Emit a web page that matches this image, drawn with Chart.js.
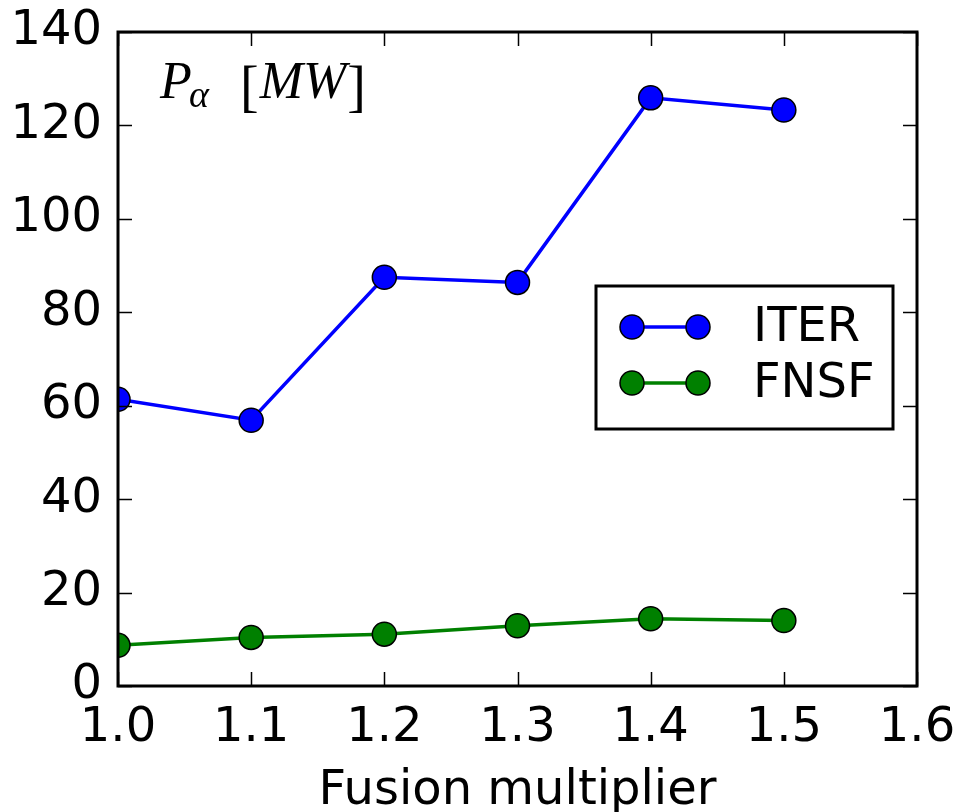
<!DOCTYPE html>
<html>
<head>
<meta charset="utf-8">
<script src="https://cdn.jsdelivr.net/npm/chart.js@4/dist/chart.umd.min.js"></script>
<style>
  html, body { margin: 0; padding: 0; background: #fff; }
  #wrap { width: 954px; height: 812px; }
</style>
</head>
<body>
<div id="wrap"><canvas id="chart1" width="954" height="812"></canvas></div>
<script>
var multipliers = [1.0, 1.1, 1.2, 1.3, 1.4, 1.5];
var iterPower = [61.4, 56.9, 87.5, 86.4, 125.9, 123.3];
var fnsfPower = [8.7, 10.4, 11.1, 12.9, 14.4, 14.0];
var seriesNames = ['ITER', 'FNSF'];

function toPoints(ys) {
    return multipliers.map(function (x, i) { return { x: x, y: ys[i] }; });
}

var tickFont = { family: 'DejaVu Sans', size: 48 };

// frame, inward ticks, legend box and the P_alpha label
var decorations = {
    id: 'decorations',
    afterDraw: function (chart) {
        var c = chart.ctx, a = chart.chartArea;
        var xs = chart.scales.x, ys = chart.scales.y;
        c.save();
        c.strokeStyle = '#000';

        c.lineWidth = 1.5;
        var len = 14;
        c.beginPath();
        xs.ticks.forEach(function (t) {
            var px = Math.round(xs.getPixelForValue(t.value)) + 0.5;
            c.moveTo(px, a.bottom); c.lineTo(px, a.bottom - len);
            c.moveTo(px, a.top); c.lineTo(px, a.top + len);
        });
        ys.ticks.forEach(function (t) {
            var py = Math.round(ys.getPixelForValue(t.value)) + 0.5;
            c.moveTo(a.left, py); c.lineTo(a.left + len, py);
            c.moveTo(a.right, py); c.lineTo(a.right - len, py);
        });
        c.stroke();

        c.lineWidth = 3;
        c.strokeRect(a.left, a.top, a.right - a.left, a.bottom - a.top);

        // legend
        var bx = 596, by = 286, bw = 297, bh = 143;
        c.fillStyle = '#fff';
        c.fillRect(bx, by, bw, bh);
        c.lineWidth = 3;
        c.strokeRect(bx, by, bw, bh);
        chart.data.datasets.forEach(function (ds, i) {
            var ry = 327 + i * 56;
            c.strokeStyle = ds.borderColor;
            c.lineWidth = 3.5;
            c.beginPath(); c.moveTo(632, ry); c.lineTo(698, ry); c.stroke();
            [632, 698].forEach(function (mx) {
                c.beginPath();
                c.arc(mx, ry, 12, 0, Math.PI * 2);
                c.fillStyle = ds.pointBackgroundColor;
                c.fill();
                c.lineWidth = 1.5;
                c.strokeStyle = '#000';
                c.stroke();
            });
            c.fillStyle = '#000';
            c.font = '48px "DejaVu Sans"';
            c.textBaseline = 'middle';
            c.textAlign = 'left';
            c.fillText(ds.label, 753, ry + 2);
        });

        // P_alpha [MW]
        c.fillStyle = '#000';
        c.textBaseline = 'alphabetic';
        c.textAlign = 'left';
        var x = 160, base = 98;
        c.font = 'italic 52px "Liberation Serif"';
        c.fillText('P', x, base);
        x = 189;
        c.font = 'italic 38px "Liberation Serif"';
        c.fillText('\u03b1', x, base + 9);
        x = 240;
        c.font = '56px "Liberation Serif"';
        c.fillText('[', x, base + 7);
        x += c.measureText('[').width + 1;
        c.font = 'italic 52px "Liberation Serif"';
        c.fillText('MW', x, base);
        x += c.measureText('MW').width + 1;
        c.font = '56px "Liberation Serif"';
        c.fillText(']', x, base + 7);
        c.restore();
    }
};

var ctx = document.getElementById('chart1').getContext('2d');
var chart = new Chart(ctx, {
    type: 'line',
    data: {
        datasets: [{
            label: seriesNames[0],
            data: toPoints(iterPower),
            borderColor: '#0000ff',
            backgroundColor: '#0000ff',
            pointBackgroundColor: '#0000ff',
            pointBorderColor: '#000',
            pointBorderWidth: 1.5,
            pointRadius: 12,
            borderWidth: 3.5,
            tension: 0,
            clip: 0
        }, {
            label: seriesNames[1],
            data: toPoints(fnsfPower),
            borderColor: '#008000',
            backgroundColor: '#008000',
            pointBackgroundColor: '#008000',
            pointBorderColor: '#000',
            pointBorderWidth: 1.5,
            pointRadius: 12,
            borderWidth: 3.5,
            tension: 0,
            clip: 0
        }]
    },
    options: {
        responsive: false,
        animation: false,
        layout: { padding: { top: 32, right: 37, left: 0, bottom: 0 } },
        plugins: { legend: { display: false }, tooltip: { enabled: false } },
        scales: {
            x: {
                type: 'linear',
                min: 1.0,
                max: 1.6,
                grid: { display: false, drawTicks: false },
                border: { display: false },
                ticks: {
                    stepSize: 0.1,
                    color: '#000',
                    font: tickFont,
                    padding: 14,
                    maxRotation: 0,
                    callback: function (v) { return v.toFixed(1); }
                },
                title: {
                    display: true,
                    text: 'Fusion multiplier',
                    color: '#000',
                    font: { family: 'DejaVu Sans', size: 48, lineHeight: 0.85 },
                    padding: 0
                },
                afterFit: function (s) {
                    s.height = 126;
                    s.paddingLeft = 0;
                    s.paddingRight = 0;
                }
            },
            y: {
                min: 0,
                max: 140,
                grid: { display: false, drawTicks: false },
                border: { display: false },
                ticks: {
                    stepSize: 20,
                    color: '#000',
                    font: tickFont,
                    padding: 16
                },
                afterFit: function (s) {
                    s.width = 118;
                    s.paddingTop = 0;
                    s.paddingBottom = 0;
                }
            }
        }
    },
    plugins: [decorations]
});
</script>
</body>
</html>
